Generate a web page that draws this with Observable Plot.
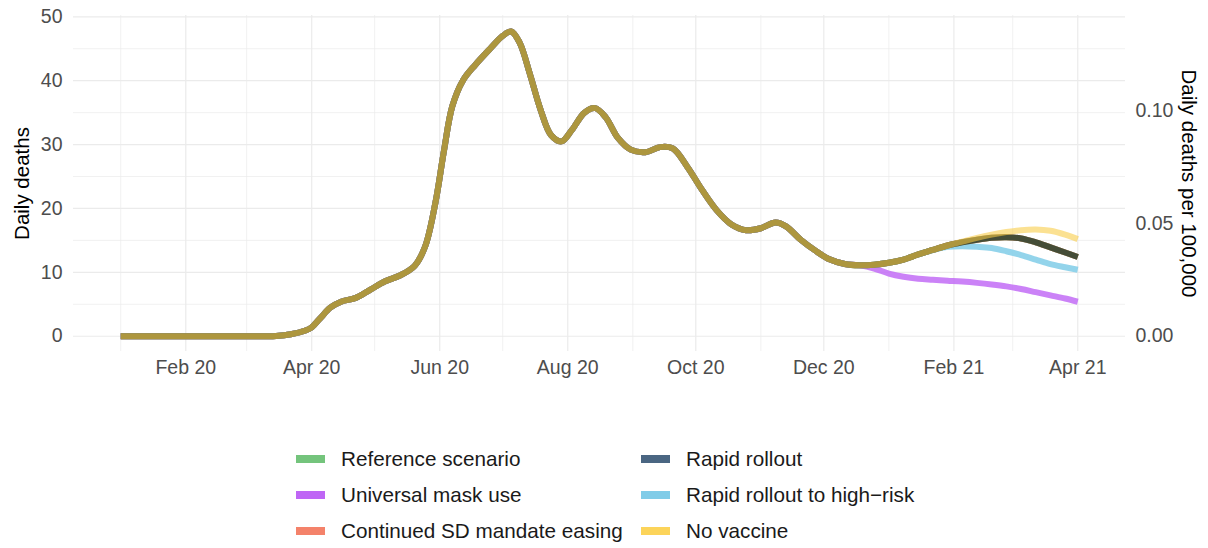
<!DOCTYPE html>
<html>
<head>
<meta charset="utf-8">
<script src="https://cdn.jsdelivr.net/npm/d3@7"></script>
<script src="https://cdn.jsdelivr.net/npm/@observablehq/plot@0.6"></script>
<style>
  html, body { margin: 0; padding: 0; background: #fff; }
  body { width: 1208px; height: 548px; overflow: hidden; font-family: "Liberation Sans", Arial, sans-serif; }
  #wrap { position: relative; width: 1208px; height: 548px; }
  #chart svg { display: block; }
  .leg { position: absolute; display: flex; align-items: center; font-size: 20.7px; color: #1a1a1a; white-space: nowrap; }
  .sw { width: 29px; height: 8px; margin-right: 16px; }
</style>
</head>
<body>
<div id="wrap">
  <div id="chart"></div>
  <div id="legend"></div>
</div>
<script>
// ---- data ----
const histDates = ["2020-01-01","2020-02-01","2020-03-01","2020-03-15","2020-03-22","2020-03-29","2020-04-01","2020-04-05","2020-04-10","2020-04-15","2020-04-22","2020-04-29","2020-05-06","2020-05-13","2020-05-20","2020-05-25","2020-05-30","2020-06-03","2020-06-07","2020-06-12","2020-06-18","2020-06-25","2020-07-01","2020-07-05","2020-07-09","2020-07-14","2020-07-19","2020-07-24","2020-07-29","2020-08-03","2020-08-09","2020-08-14","2020-08-19","2020-08-25","2020-08-31","2020-09-07","2020-09-14","2020-09-20","2020-09-27","2020-10-04","2020-10-11","2020-10-18","2020-10-25","2020-11-01","2020-11-08","2020-11-13","2020-11-20","2020-11-27","2020-12-04","2020-12-11","2020-12-18"];
const histDeaths = [0,0,0,0.05,0.3,0.9,1.4,2.8,4.5,5.4,6.0,7.3,8.6,9.5,11,14,21,29,36,40,42.5,45,47,47.7,46,41,35.5,31.5,30.5,32.3,35.0,35.7,34.3,31.0,29.2,28.8,29.6,29.4,26.5,22.9,19.7,17.5,16.6,16.9,17.8,17.2,15.1,13.4,12.0,11.3,11.1];

const scenarioDates = ["2020-12-25","2021-01-01","2021-01-08","2021-01-15","2021-01-22","2021-01-29","2021-02-05","2021-02-12","2021-02-19","2021-02-26","2021-03-05","2021-03-12","2021-03-19","2021-03-26","2021-04-01"];
const referenceScenario = [11.2,11.5,12.0,12.8,13.5,14.2,14.7,15.1,15.4,15.5,15.3,14.7,13.9,13.1,12.4];
const universalMask     = [10.6,9.8,9.3,9.0,8.85,8.7,8.55,8.35,8.1,7.8,7.4,6.9,6.4,5.9,5.4];
const continuedSDEasing = [11.2,11.5,12.0,12.8,13.5,14.2,14.7,15.1,15.4,15.5,15.3,14.7,13.9,13.1,12.4];
const rapidRollout      = [11.2,11.5,12.0,12.8,13.5,14.2,14.7,15.1,15.4,15.5,15.3,14.7,13.9,13.1,12.4];
const rapidHighRisk     = [11.2,11.5,12.0,12.8,13.5,14.0,14.1,14.0,13.8,13.3,12.7,12.0,11.3,10.8,10.4];
const noVaccine         = [11.2,11.5,12.0,12.8,13.5,14.2,14.8,15.4,15.9,16.3,16.6,16.7,16.5,15.9,15.2];

const scenarioNames = ["Reference scenario","Universal mask use","Continued SD mandate easing","Rapid rollout","Rapid rollout to high\u2212risk","No vaccine"];
const scenarioValues = [referenceScenario, universalMask, continuedSDEasing, rapidRollout, rapidHighRisk, noVaccine];
const legendColors = ["#74c47c","#bf66f5","#f4826a","#4a6682","#80cce8","#fcd45a"];
// colours as the overlapping, semi-transparent lines appear in the picture
const lineColors   = ["#74c47c","#bf66f5","#f4826a","#454d37","#80cce8","#f8cc44"];
const lineOpacity  = [0.85, 0.82, 0.85, 1, 0.85, 0.58];
const drawOrder    = [0, 2, 1, 4, 3, 5];

const yTicks = [0,10,20,30,40,50];
const yMinor = [5,15,25,35,45];
const perCapitaTicks = [0, 0.05, 0.10];
const populationHundredK = 353; // deaths per unit of the per-100,000 rate
const xMajor = ["2020-02-01","2020-04-01","2020-06-01","2020-08-01","2020-10-01","2020-12-01","2021-02-01","2021-04-01"];
const xMinor = ["2020-01-01","2020-03-01","2020-05-01","2020-07-01","2020-09-01","2020-11-01","2021-01-01","2021-03-01"];
const xDomain = ["2019-12-09T12:00","2021-04-23T18:00"];

// ---- build ----
const parse = s => new Date(s.length > 10 ? s + "Z" : s + "T00:00Z");
const series = scenarioNames.map((name, i) => {
  const rows = histDates.map((d, j) => ({date: parse(d), deaths: histDeaths[j], scenario: name}));
  scenarioDates.forEach((d, j) => rows.push({date: parse(d), deaths: scenarioValues[i][j], scenario: name}));
  return rows;
});

const fmt = d3.utcFormat("%b %y");
const grid = "#ebebeb";

const plot = Plot.plot({
  width: 1208,
  height: 390,
  marginLeft: 73,
  marginRight: 83,
  marginTop: 15,
  marginBottom: 39,
  style: {fontFamily: "'Liberation Sans', Arial, sans-serif", fontSize: "19.5px", background: "transparent"},
  x: {type: "utc", domain: xDomain.map(parse)},
  y: {domain: [-2.39, 50.2]},
  marks: [
    Plot.ruleY(yMinor, {stroke: grid, strokeWidth: 0.7}),
    Plot.ruleX(xMinor.map(parse), {stroke: grid, strokeWidth: 0.7}),
    Plot.ruleY(yTicks, {stroke: grid, strokeWidth: 1.2}),
    Plot.ruleX(xMajor.map(parse), {stroke: grid, strokeWidth: 1.2}),
    ...drawOrder.map(i => Plot.line(series[i], {
      x: "date", y: "deaths", stroke: lineColors[i], strokeWidth: 6,
      strokeOpacity: lineOpacity[i], curve: "catmull-rom", strokeLinecap: "butt", strokeLinejoin: "round"
    })),
    Plot.axisY(yTicks, {anchor: "left", tickSize: 0, tickPadding: 11, label: null, color: "#4d4d4d", fontSize: 19.5}),
    Plot.axisY(perCapitaTicks.map(t => t * populationHundredK), {anchor: "right", tickSize: 0, tickPadding: 10, label: null,
      tickFormat: d => (d / populationHundredK).toFixed(2), color: "#4d4d4d", fontSize: 19.5}),
    Plot.axisX(xMajor.map(parse), {anchor: "bottom", tickSize: 0, tickPadding: 9, label: null, tickFormat: fmt, color: "#4d4d4d", fontSize: 19.5}),
    Plot.text(["Daily deaths"], {frameAnchor: "left", dx: -51, rotate: -90, textAnchor: "middle", fontSize: 20.5, fill: "#000"}),
    Plot.text(["Daily deaths per 100,000"], {frameAnchor: "right", dx: 63, rotate: 90, textAnchor: "middle", fontSize: 20.5, fill: "#000"})
  ]
});
document.getElementById("chart").appendChild(plot);

// ---- legend ----
const legend = document.getElementById("legend");
scenarioNames.forEach((name, i) => {
  const col = Math.floor(i / 3), row = i % 3;
  const item = document.createElement("div");
  item.className = "leg";
  item.style.left = (296 + col * 345) + "px";
  item.style.top = (459 + row * 36 - 12) + "px";
  item.style.height = "24px";
  const sw = document.createElement("div");
  sw.className = "sw";
  sw.style.background = legendColors[i];
  item.appendChild(sw);
  const t = document.createElement("span");
  t.textContent = name;
  item.appendChild(t);
  legend.appendChild(item);
});
</script>
</body>
</html>
